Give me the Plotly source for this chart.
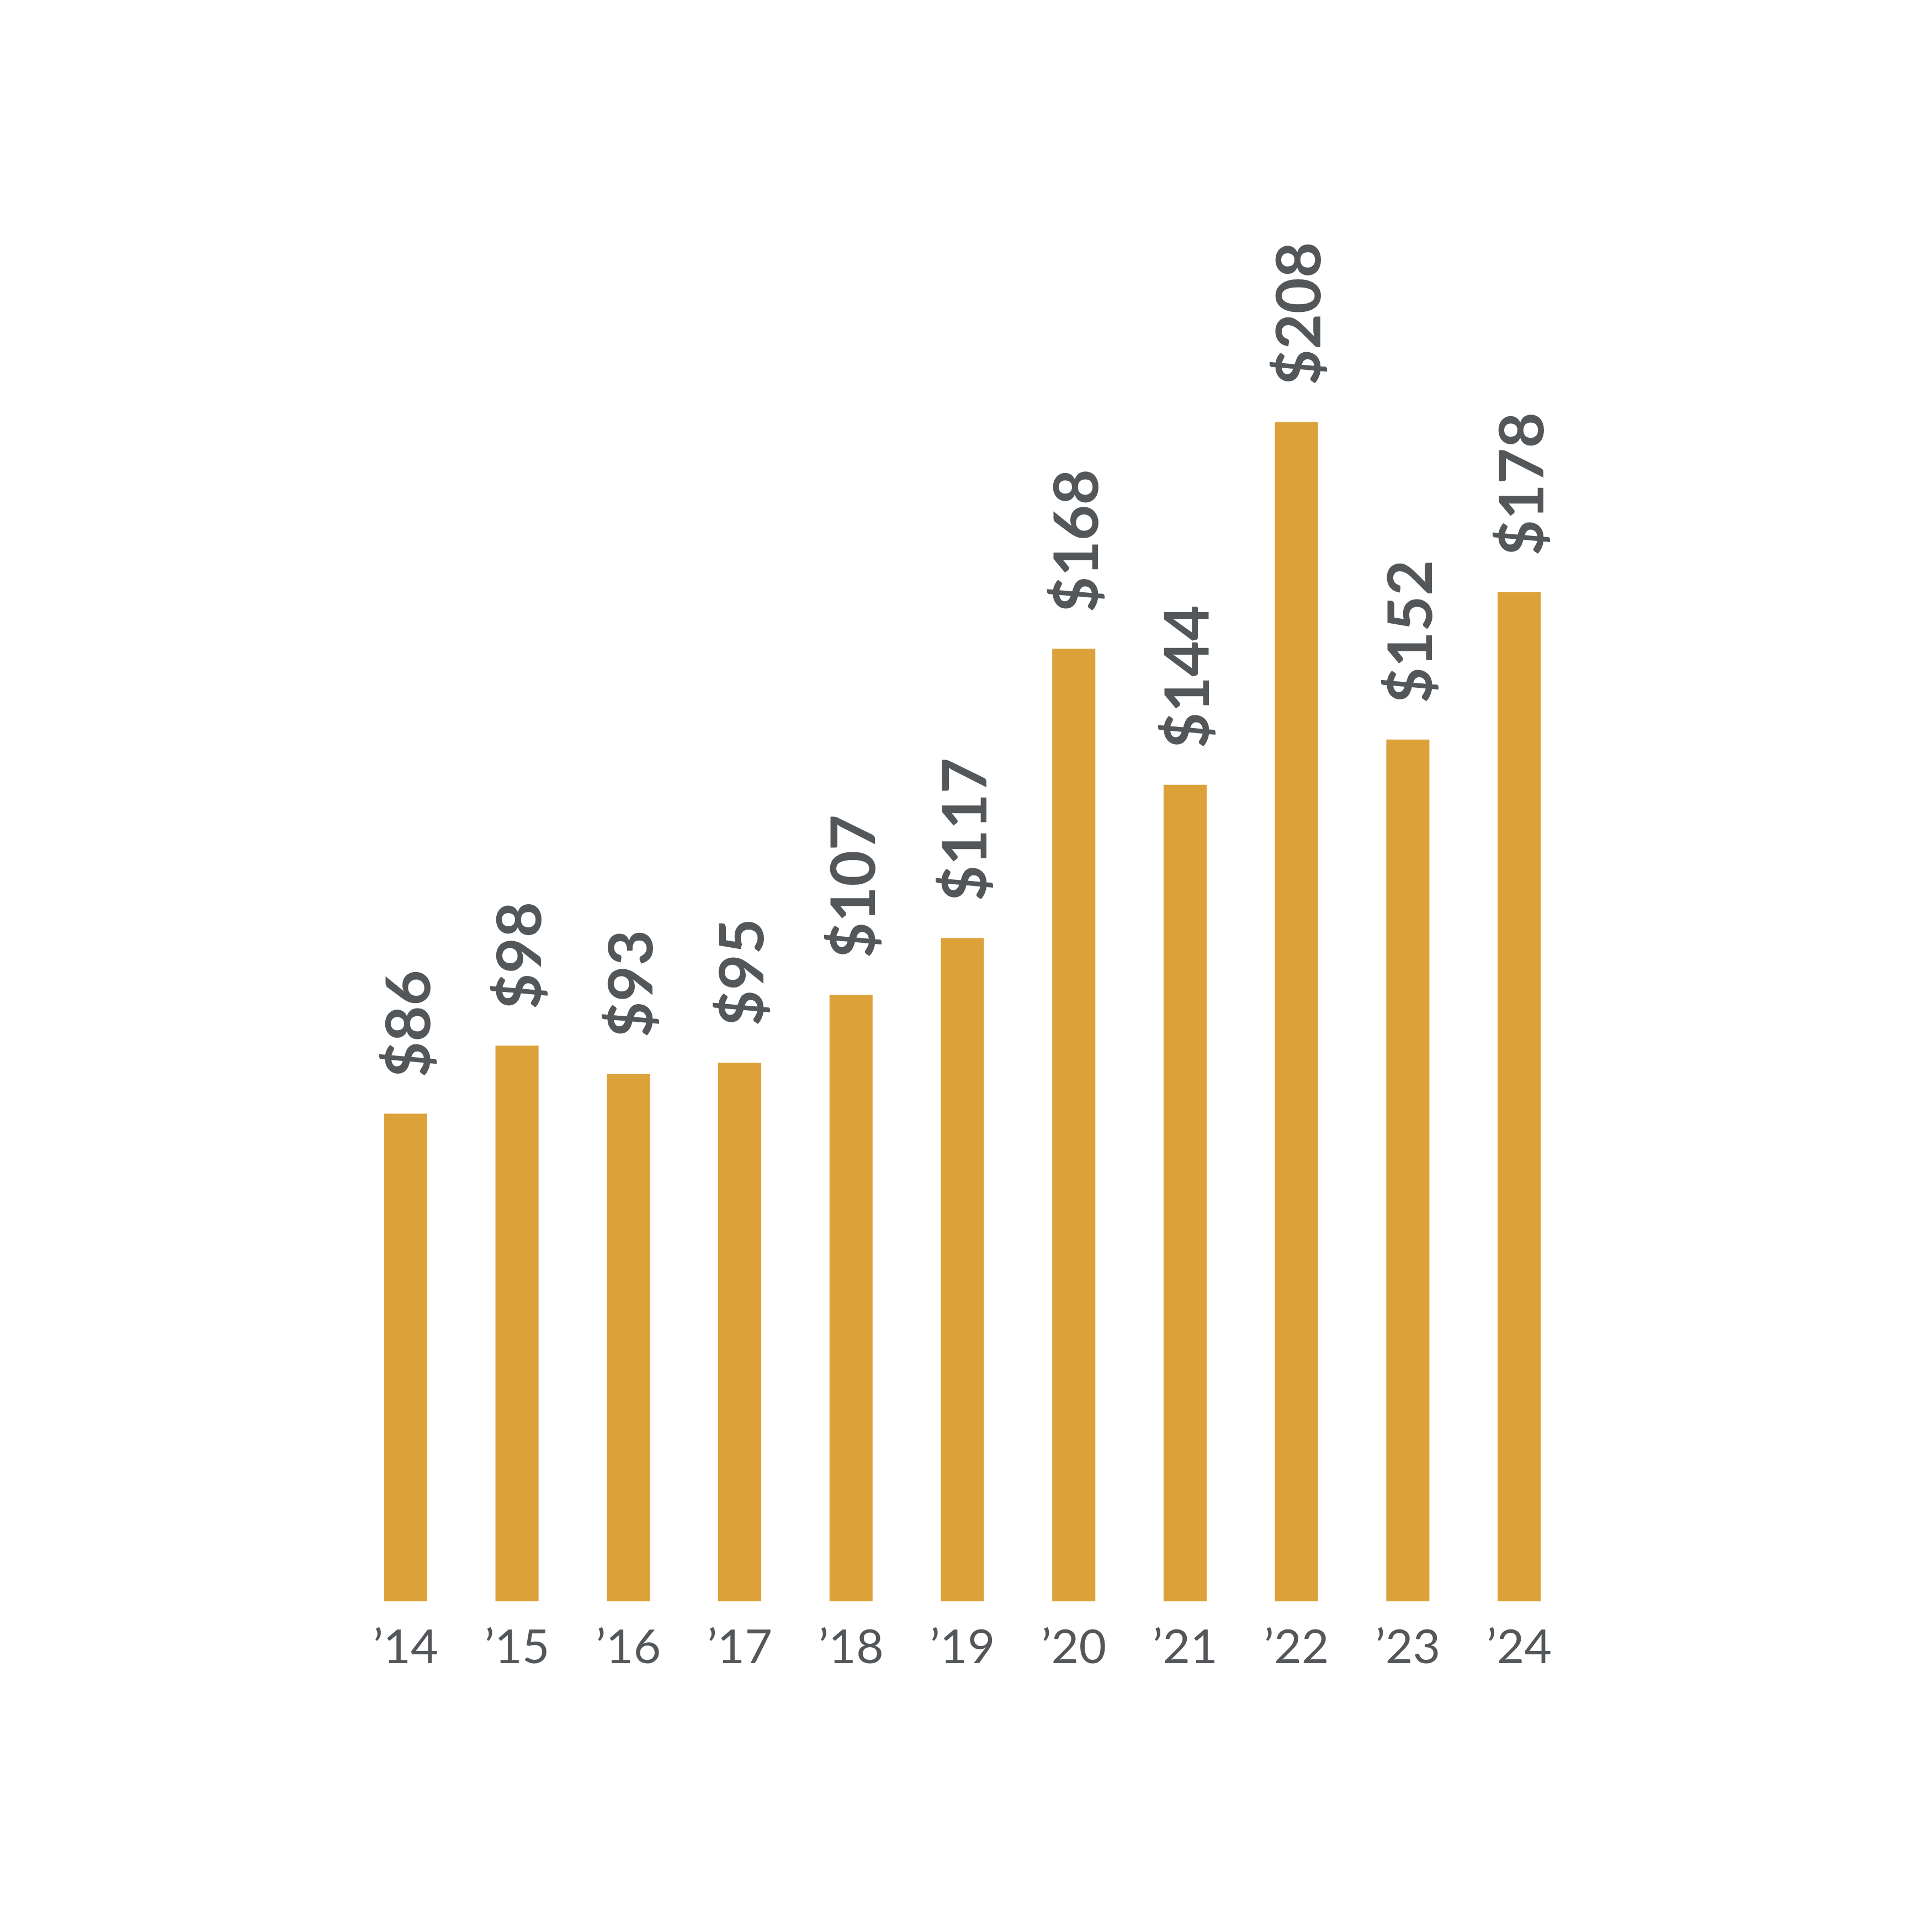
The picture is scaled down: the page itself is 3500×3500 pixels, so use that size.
import plotly.graph_objects as go

years = ["’14", "’15", "’16", "’17", "’18", "’19", "’20", "’21", "’22", "’23", "’24"]
values = [86, 98, 93, 95, 107, 117, 168, 144, 208, 152, 178]
labels = ["$86", "$98", "$93", "$95", "$107", "$117", "$168", "$144", "$208", "$152", "$178"]

BAR = "#DDA139"
TXT = "#54575A"

fig = go.Figure()
fig.add_trace(go.Bar(x=years, y=values, marker=dict(color=BAR, line=dict(width=0)),
                     hoverinfo="skip"))

for yr, v, lab in zip(years, values, labels):
    fig.add_annotation(x=yr, y=v, text=lab, showarrow=False, textangle=-90,
                       xanchor="center", yanchor="bottom", yshift=64,
                       font=dict(family="Lato", size=112, color=TXT, weight="bold"))

fig.update_layout(
    width=3500, height=3500,
    margin=dict(l=626, r=655, t=325, b=607),
    paper_bgcolor="white", plot_bgcolor="white",
    bargap=0.613, showlegend=False,
    xaxis=dict(type="category", range=[-0.5, 10.5], showgrid=False, zeroline=False,
               showline=False, ticks="outside", ticklen=8, tickcolor="rgba(0,0,0,0)",
               tickfont=dict(family="Lato", size=86, color=TXT)),
    yaxis=dict(range=[0, 250], visible=False, showgrid=False, zeroline=False),
)

fig.write_html("out.html")
